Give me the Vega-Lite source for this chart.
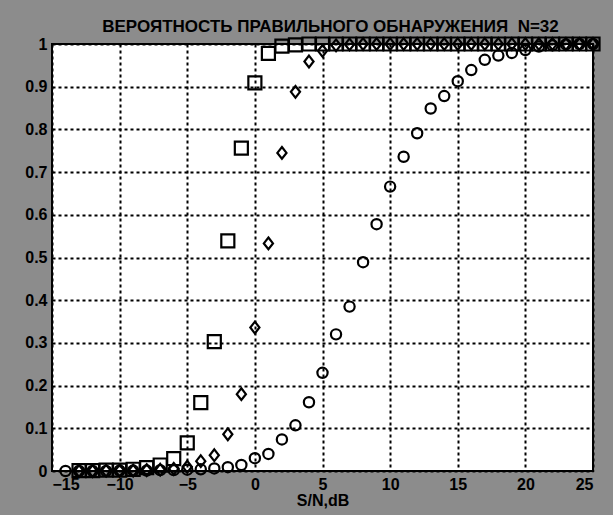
{
  "$schema": "https://vega.github.io/schema/vega-lite/v6.json",
  "autosize": {"type": "none"},
  "width": 541,
  "height": 427,
  "padding": {"left": 52, "top": 44, "right": 20, "bottom": 44},
  "background": "#8c8c8c",
  "title": {
    "text": "ВЕРОЯТНОСТЬ ПРАВИЛЬНОГО ОБНАРУЖЕНИЯ \u00a0N=32",
    "font": "Liberation Sans",
    "fontSize": 17,
    "fontWeight": "bold",
    "color": "black",
    "offset": 0,
    "baseline": "alphabetic",
    "anchor": "middle",
    "frame": "group",
    "dx": 8,
    "dy": 16
  },
  "config": {
    "view": {"fill": "white", "stroke": "black", "strokeWidth": 2},
    "axis": {
      "labelFont": "Liberation Sans",
      "labelFontSize": 16,
      "labelFontWeight": "bold",
      "labelColor": "black",
      "titleFont": "Liberation Sans",
      "titleFontSize": 16,
      "titleFontWeight": "bold",
      "titleColor": "black",
      "domain": false,
      "ticks": false,
      "grid": true,
      "gridColor": "black",
      "gridOpacity": 1,
      "gridWidth": 2,
      "gridDash": [3, 3]
    }
  },
  "data": {
    "values": [
      {"s": -14, "p": 0.0, "series": "c"},
      {"s": -13, "p": 0.0, "series": "c"},
      {"s": -12, "p": 0.0, "series": "c"},
      {"s": -11, "p": 0.0, "series": "c"},
      {"s": -10, "p": 0.001, "series": "c"},
      {"s": -9, "p": 0.001, "series": "c"},
      {"s": -8, "p": 0.001, "series": "c"},
      {"s": -7, "p": 0.002, "series": "c"},
      {"s": -6, "p": 0.002, "series": "c"},
      {"s": -5, "p": 0.003, "series": "c"},
      {"s": -4, "p": 0.004, "series": "c"},
      {"s": -3, "p": 0.006, "series": "c"},
      {"s": -2, "p": 0.009, "series": "c"},
      {"s": -1, "p": 0.014, "series": "c"},
      {"s": 0, "p": 0.030, "series": "c"},
      {"s": 1, "p": 0.040, "series": "c"},
      {"s": 2, "p": 0.074, "series": "c"},
      {"s": 3, "p": 0.107, "series": "c"},
      {"s": 4, "p": 0.161, "series": "c"},
      {"s": 5, "p": 0.230, "series": "c"},
      {"s": 6, "p": 0.320, "series": "c"},
      {"s": 7, "p": 0.385, "series": "c"},
      {"s": 8, "p": 0.489, "series": "c"},
      {"s": 9, "p": 0.578, "series": "c"},
      {"s": 10, "p": 0.666, "series": "c"},
      {"s": 11, "p": 0.736, "series": "c"},
      {"s": 12, "p": 0.791, "series": "c"},
      {"s": 13, "p": 0.849, "series": "c"},
      {"s": 14, "p": 0.878, "series": "c"},
      {"s": 15, "p": 0.913, "series": "c"},
      {"s": 16, "p": 0.939, "series": "c"},
      {"s": 17, "p": 0.963, "series": "c"},
      {"s": 18, "p": 0.973, "series": "c"},
      {"s": 19, "p": 0.979, "series": "c"},
      {"s": 20, "p": 0.986, "series": "c"},
      {"s": 21, "p": 0.994, "series": "c"},
      {"s": 22, "p": 0.997, "series": "c"},
      {"s": 23, "p": 0.999, "series": "c"},
      {"s": 24, "p": 1.0, "series": "c"},
      {"s": 25, "p": 1.0, "series": "c"},
      {"s": -13, "p": 0.0, "series": "d"},
      {"s": -12, "p": 0.0, "series": "d"},
      {"s": -11, "p": 0.001, "series": "d"},
      {"s": -10, "p": 0.001, "series": "d"},
      {"s": -9, "p": 0.001, "series": "d"},
      {"s": -8, "p": 0.002, "series": "d"},
      {"s": -7, "p": 0.003, "series": "d"},
      {"s": -6, "p": 0.005, "series": "d"},
      {"s": -5, "p": 0.010, "series": "d"},
      {"s": -4, "p": 0.023, "series": "d"},
      {"s": -3, "p": 0.037, "series": "d"},
      {"s": -2, "p": 0.086, "series": "d"},
      {"s": -1, "p": 0.180, "series": "d"},
      {"s": 0, "p": 0.336, "series": "d"},
      {"s": 1, "p": 0.533, "series": "d"},
      {"s": 2, "p": 0.745, "series": "d"},
      {"s": 3, "p": 0.888, "series": "d"},
      {"s": 4, "p": 0.959, "series": "d"},
      {"s": 5, "p": 0.984, "series": "d"},
      {"s": 6, "p": 0.997, "series": "d"},
      {"s": 7, "p": 0.999, "series": "d"},
      {"s": 8, "p": 1.0, "series": "d"},
      {"s": 9, "p": 1.0, "series": "d"},
      {"s": 10, "p": 1.0, "series": "d"},
      {"s": 11, "p": 1.0, "series": "d"},
      {"s": 12, "p": 1.0, "series": "d"},
      {"s": 13, "p": 1.0, "series": "d"},
      {"s": 14, "p": 1.0, "series": "d"},
      {"s": 15, "p": 1.0, "series": "d"},
      {"s": 16, "p": 1.0, "series": "d"},
      {"s": 17, "p": 1.0, "series": "d"},
      {"s": 18, "p": 1.0, "series": "d"},
      {"s": 19, "p": 1.0, "series": "d"},
      {"s": 20, "p": 1.0, "series": "d"},
      {"s": 21, "p": 1.0, "series": "d"},
      {"s": 22, "p": 1.0, "series": "d"},
      {"s": 23, "p": 1.0, "series": "d"},
      {"s": 24, "p": 1.0, "series": "d"},
      {"s": 25, "p": 1.0, "series": "d"},
      {"s": -13, "p": 0.001, "series": "s"},
      {"s": -12, "p": 0.001, "series": "s"},
      {"s": -11, "p": 0.002, "series": "s"},
      {"s": -10, "p": 0.002, "series": "s"},
      {"s": -9, "p": 0.004, "series": "s"},
      {"s": -8, "p": 0.008, "series": "s"},
      {"s": -7, "p": 0.014, "series": "s"},
      {"s": -6, "p": 0.029, "series": "s"},
      {"s": -5, "p": 0.066, "series": "s"},
      {"s": -4, "p": 0.160, "series": "s"},
      {"s": -3, "p": 0.303, "series": "s"},
      {"s": -2, "p": 0.539, "series": "s"},
      {"s": -1, "p": 0.756, "series": "s"},
      {"s": 0, "p": 0.909, "series": "s"},
      {"s": 1, "p": 0.978, "series": "s"},
      {"s": 2, "p": 0.995, "series": "s"},
      {"s": 3, "p": 0.998, "series": "s"},
      {"s": 4, "p": 1.0, "series": "s"},
      {"s": 5, "p": 1.0, "series": "s"},
      {"s": 6, "p": 1.0, "series": "s"},
      {"s": 7, "p": 1.0, "series": "s"},
      {"s": 8, "p": 1.0, "series": "s"},
      {"s": 9, "p": 1.0, "series": "s"},
      {"s": 10, "p": 1.0, "series": "s"},
      {"s": 11, "p": 1.0, "series": "s"},
      {"s": 12, "p": 1.0, "series": "s"},
      {"s": 13, "p": 1.0, "series": "s"},
      {"s": 14, "p": 1.0, "series": "s"},
      {"s": 15, "p": 1.0, "series": "s"},
      {"s": 16, "p": 1.0, "series": "s"},
      {"s": 17, "p": 1.0, "series": "s"},
      {"s": 18, "p": 1.0, "series": "s"},
      {"s": 19, "p": 1.0, "series": "s"},
      {"s": 20, "p": 1.0, "series": "s"},
      {"s": 21, "p": 1.0, "series": "s"},
      {"s": 22, "p": 1.0, "series": "s"},
      {"s": 23, "p": 1.0, "series": "s"},
      {"s": 24, "p": 1.0, "series": "s"},
      {"s": 25, "p": 1.0, "series": "s"}
    ]
  },
  "mark": {"type": "point", "filled": false, "stroke": "black", "strokeWidth": 2.2, "opacity": 1, "clip": false},
  "encoding": {
    "x": {
      "field": "s",
      "type": "quantitative",
      "scale": {"domain": [-15, 25], "nice": false, "zero": false},
      "axis": {"values": [-15, -10, -5, 0, 5, 10, 15, 20, 25], "title": "S/N,dB", "labelPadding": 5, "titlePadding": 0}
    },
    "y": {
      "field": "p",
      "type": "quantitative",
      "scale": {"domain": [0, 1], "nice": false},
      "axis": {"values": [0, 0.1, 0.2, 0.3, 0.4, 0.5, 0.6, 0.7, 0.8, 0.9, 1], "format": "~g", "title": null, "labelPadding": 5}
    },
    "shape": {
      "field": "series",
      "type": "nominal",
      "scale": {"domain": ["c", "d", "s"], "range": ["circle", "M0,-1L0.78,0L0,1L-0.78,0Z", "square"]},
      "legend": null
    },
    "size": {
      "field": "series",
      "type": "nominal",
      "scale": {"domain": ["c", "d", "s"], "range": [105, 170, 135]},
      "legend": null
    }
  }
}
